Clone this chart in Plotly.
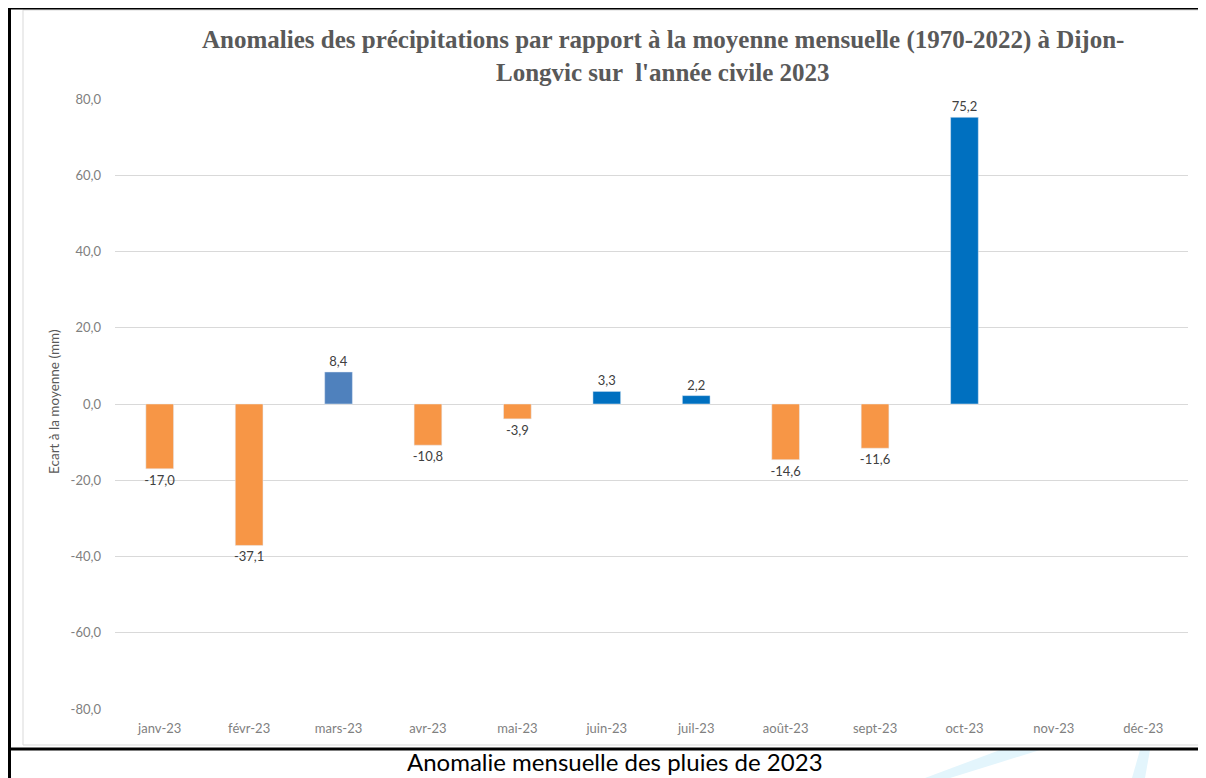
import plotly.graph_objects as go

months = ["janv-23", "févr-23", "mars-23", "avr-23", "mai-23", "juin-23",
          "juil-23", "août-23", "sept-23", "oct-23", "nov-23", "déc-23"]
anomalies = [-17.0, -37.1, 8.4, -10.8, -3.9, 3.3, 2.2, -14.6, -11.6, 75.2, None, None]
bar_colors = ["#F79646", "#F79646", "#4F81BD", "#F79646", "#F79646", "#0070C0",
              "#0070C0", "#F79646", "#F79646", "#0070C0", "#0070C0", "#0070C0"]
y_ticks = [-80, -60, -40, -20, 0, 20, 40, 60, 80]
y_ticktext = ["-80,0", "-60,0", "-40,0", "-20,0", "0,0", "20,0", "40,0", "60,0", "80,0"]

labels = ["" if v is None else f"{v:.1f}".replace(".", ",") for v in anomalies]

# page is offset by the browser's default 8px body margin
OFF = 8
W, H = 1206 - OFF, 778 - OFF
# target plot area in page pixels: x 115..1188, y 99..709
L, R, T, B = 115 - OFF, 1206 - 1188, 99 - OFF, 778 - 709
pw, ph = W - L - R, H - T - B

def px(x):
    return (x - OFF - L) / pw

def py(y):
    return (H - B - (y - OFF)) / ph

fig = go.Figure(go.Bar(
    x=months, y=anomalies, marker_color=bar_colors, width=0.31,
    text=labels, textposition="outside", cliponaxis=False, constraintext="none",
    textfont=dict(family="Lato, Open Sans, sans-serif", size=13, color="#404040"),
))

shapes = [
    # light swoosh watermark
    dict(type="path", xref="paper", yref="paper",
         path=f"M {px(925)} {py(778)} L {px(1000)} {py(750)} L {px(1040)} {py(750)} L {px(950)} {py(778)} Z",
         fillcolor="#E3F5FC", line=dict(width=0), layer="below"),
    dict(type="path", xref="paper", yref="paper",
         path=f"M {px(1132)} {py(778)} L {px(1140)} {py(750)} L {px(1150)} {py(750)} L {px(1145)} {py(778)} Z",
         fillcolor="#E3F5FC", line=dict(width=0), layer="below"),
    # inner chart frame
    dict(type="rect", xref="paper", yref="paper",
         x0=px(23), x1=px(1202), y0=py(745), y1=py(10),
         line=dict(color="#D9D9D9", width=1), layer="below"),
    # document table borders
    dict(type="line", xref="paper", yref="paper", x0=px(8), x1=px(1204), y0=py(8), y1=py(8),
         line=dict(color="black", width=3)),
    dict(type="line", xref="paper", yref="paper", x0=px(8), x1=px(1206), y0=py(749), y1=py(749),
         line=dict(color="black", width=3)),
    dict(type="line", xref="paper", yref="paper", x0=px(9.5), x1=px(9.5), y0=py(8), y1=py(778),
         line=dict(color="black", width=3)),
]

annotations = [
    dict(text="<b>Anomalies des précipitations par rapport à la moyenne mensuelle (1970-2022) à Dijon-</b>",
         xref="paper", yref="paper", x=px(663), y=py(40), showarrow=False,
         xanchor="center", yanchor="middle",
         font=dict(family="Liberation Serif, serif", size=25, color="#595959")),
    dict(text="<b>Longvic sur  l'année civile 2023</b>",
         xref="paper", yref="paper", x=px(663), y=py(72), showarrow=False,
         xanchor="center", yanchor="middle",
         font=dict(family="Liberation Serif, serif", size=25, color="#595959")),
    dict(text="Ecart à la moyenne (mm)", textangle=-90,
         xref="paper", yref="paper", x=px(54), y=py(402), showarrow=False,
         xanchor="center", yanchor="middle",
         font=dict(family="Lato, Open Sans, sans-serif", size=13.5, color="#595959")),
    dict(text="Anomalie mensuelle des pluies de 2023",
         xref="paper", yref="paper", x=px(615), y=py(761), showarrow=False,
         xanchor="center", yanchor="middle", borderpad=0,
         font=dict(family="Lato, Open Sans, sans-serif", size=24, color="#000000")),
]

fig.update_layout(
    width=W, height=H,
    margin=dict(l=L, r=R, t=T, b=B, pad=0),
    paper_bgcolor="white", plot_bgcolor="white",
    showlegend=False,
    shapes=shapes, annotations=annotations,
    xaxis=dict(type="category", categoryorder="array", categoryarray=months,
               showgrid=False, showline=False, zeroline=False, ticks="",
               ticklabelstandoff=10,
               tickfont=dict(family="Lato, Open Sans, sans-serif", size=13, color="#808080")),
    yaxis=dict(range=[-80, 80], tickvals=y_ticks, ticktext=y_ticktext,
               showgrid=True, gridcolor="#D9D9D9", gridwidth=1,
               zeroline=True, zerolinecolor="#D9D9D9", zerolinewidth=1,
               showline=False, ticks="", ticklabelstandoff=13,
               tickfont=dict(family="Lato, Open Sans, sans-serif", size=13, color="#808080")),
)

fig.write_html("out.html")
